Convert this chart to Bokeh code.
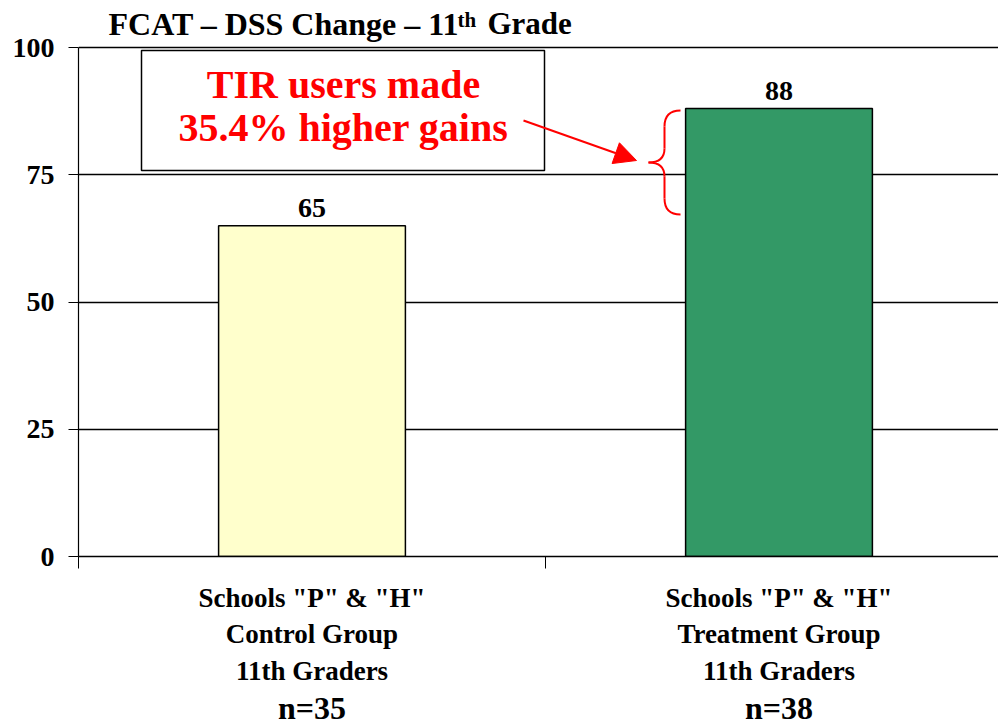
from bokeh.plotting import figure
from bokeh.models import (ColumnDataSource, Range1d, FixedTicker, Label, LabelSet,
                          Arrow, NormalHead, LinearAxis)
from bokeh.embed import file_html
from bokeh.resources import INLINE

# ---- data ----
groups = ["Control", "Treatment"]
values = [65, 88]
bar_colors = ["#FFFFCC", "#339966"]
group_labels = [
    'Schools "P" & "H"\nControl Group\n11th Graders',
    'Schools "P" & "H"\nTreatment Group\n11th Graders',
]
n_labels = ["n=35", "n=38"]
y_ticks = [0, 25, 50, 75, 100]
note_lines = ["TIR users made", "35.4% higher gains"]
title_parts = ["FCAT – DSS Change – 11", "th", "Grade"]

SERIF = "Liberation Serif"

# pixel helpers for annotation placement (x: 467 px per category, y: 5.09 px per unit)
def px(x):
    return (x - 78) / 467.0

def py(y):
    return (556 - y) / 5.09

xpos = [i + 0.5 for i in range(len(groups))]
src = ColumnDataSource(dict(x=xpos, top=values, color=bar_colors,
                            txt=[str(v) for v in values]))

p = figure(width=998, height=728, output_backend="svg", toolbar_location=None,
           x_range=Range1d(0, 920 / 467.0), y_range=Range1d(0, py(5)),
           min_border_left=78, min_border_right=0, min_border_top=5,
           min_border_bottom=172)
p.outline_line_color = None
p.background_fill_color = "white"

# grid
p.xgrid.visible = False
p.ygrid.ticker = FixedTicker(ticks=y_ticks)
p.ygrid.grid_line_color = "black"
p.ygrid.grid_line_width = 1.6

# y axis
p.yaxis.ticker = FixedTicker(ticks=y_ticks)
p.yaxis.bounds = (0, 100)
p.yaxis.axis_line_color = "black"
p.yaxis.axis_line_width = 1.2
p.yaxis.major_tick_out = 10
p.yaxis.major_tick_in = 0
p.yaxis.minor_tick_out = 0
p.yaxis.minor_tick_in = 0
p.yaxis.major_label_text_font = SERIF
p.yaxis.major_label_text_font_style = "bold"
p.yaxis.major_label_text_font_size = "28px"
p.yaxis.major_label_text_color = "black"
p.yaxis.major_label_standoff = 14

# x axis: group boundaries as (minor) ticks, group names as labels
xa = p.xaxis[0]
xa.ticker = FixedTicker(ticks=xpos, minor_ticks=[0, 1, 2])
xa.major_label_overrides = {xv: t for xv, t in zip(xpos, group_labels)}
xa.axis_line_color = "black"
xa.axis_line_width = 1.6
xa.major_tick_out = 0
xa.major_tick_in = 0
xa.minor_tick_out = 12
xa.minor_tick_in = 0
xa.minor_tick_line_color = "black"
xa.major_label_text_font = SERIF
xa.major_label_text_font_style = "bold"
xa.major_label_text_font_size = "27px"
xa.major_label_text_color = "black"
xa.major_label_text_line_height = 1.23
xa.major_label_standoff = 14

na = LinearAxis(ticker=FixedTicker(ticks=xpos),
                major_label_overrides={xv: t for xv, t in zip(xpos, n_labels)})
na.axis_line_color = None
na.major_tick_out = 0
na.major_tick_in = 0
na.minor_tick_out = 0
na.minor_tick_in = 0
na.major_label_text_font = SERIF
na.major_label_text_font_style = "bold"
na.major_label_text_font_size = "32px"
na.major_label_text_color = "black"
na.major_label_standoff = 0
p.add_layout(na, "below")

# bars
p.vbar(x="x", top="top", width=0.4, bottom=0, fill_color="color",
       line_color="black", line_width=1.5, source=src)
p.add_layout(LabelSet(x="x", y="top", text="txt", source=src, y_offset=9,
                      text_align="center", text_baseline="bottom",
                      text_font=SERIF, text_font_style="bold",
                      text_font_size="28px", text_color="black"))

# title with superscript
p.add_layout(Label(x=px(108), y=py(23), text=title_parts[0],
                   text_align="left", text_baseline="middle",
                   text_font=SERIF, text_font_style="bold",
                   text_font_size="32px", text_color="black"))
p.add_layout(Label(x=px(457), y=py(19), text=title_parts[1],
                   text_align="left", text_baseline="middle",
                   text_font=SERIF, text_font_style="bold",
                   text_font_size="21px", text_color="black"))
p.add_layout(Label(x=px(487), y=py(23), text=title_parts[2],
                   text_align="left", text_baseline="middle",
                   text_font=SERIF, text_font_style="bold",
                   text_font_size="31px", text_color="black"))

# annotation box
p.quad(left=px(141), right=px(544), bottom=py(170), top=py(50), fill_color="white",
       line_color="black", line_width=1.5)
p.add_layout(Label(x=px(343), y=py(84), text=note_lines[0], text_align="center",
                   text_baseline="middle", text_font=SERIF,
                   text_font_style="bold", text_font_size="40px",
                   text_color="#FF0000"))
p.add_layout(Label(x=px(343), y=py(127), text=note_lines[1], text_align="center",
                   text_baseline="middle", text_font=SERIF,
                   text_font_style="bold", text_font_size="40px",
                   text_color="#FF0000"))

# arrow
p.add_layout(Arrow(x_start=px(523), y_start=py(120), x_end=px(636), y_end=py(160),
                   line_color="#FF0000", line_width=2,
                   end=NormalHead(size=22, fill_color="#FF0000",
                                  line_color="#FF0000")))

# curly brace
segs = [((680, 110), (664, 110), (664, 126)),
        ((664, 148), (664, 162), (648, 162)),
        ((648, 162), (664, 162), (664, 176)),
        ((664, 198), (664, 214), (680, 214))]
p.quadratic(x0=[px(s[0][0]) for s in segs], y0=[py(s[0][1]) for s in segs],
            cx=[px(s[1][0]) for s in segs], cy=[py(s[1][1]) for s in segs],
            x1=[px(s[2][0]) for s in segs], y1=[py(s[2][1]) for s in segs],
            line_color="#FF0000", line_width=2)
p.segment(x0=[px(664), px(664)], y0=[py(126), py(176)],
          x1=[px(664), px(664)], y1=[py(148), py(198)],
          line_color="#FF0000", line_width=2)

open("out.html", "w").write(file_html(p, INLINE))
